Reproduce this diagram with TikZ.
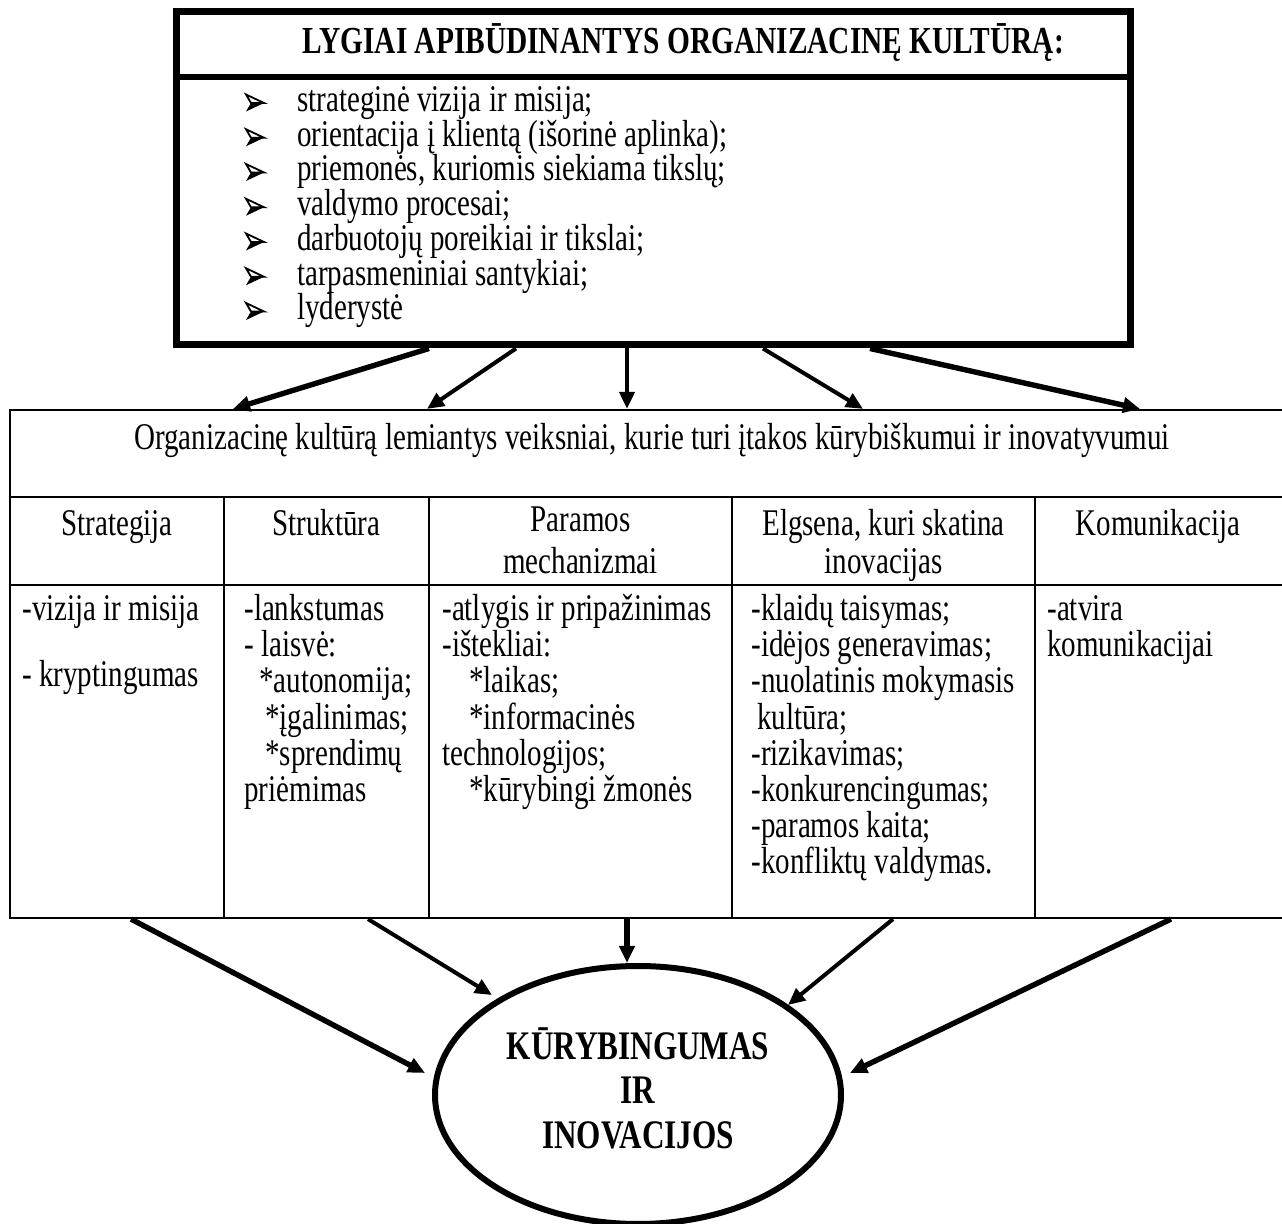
\documentclass[tikz,border=0pt]{standalone}
\usepackage{fontspec}
\setmainfont{Liberation Serif}
\usetikzlibrary{arrows.meta,shapes.geometric,calc}
\newcommand\vs[1]{\scalebox{1}[1.3]{#1}}
\begin{document}
\begin{tikzpicture}[x=0.5pt,y=-0.5pt,
  body/.style={inner sep=0,font=\fontsize{14.5pt}{17.75pt}\selectfont},
  lft/.style={body,anchor=base west},
  ctr/.style={body,anchor=base},
  arr/.style={-{Triangle[length=8.5pt,width=7.5pt]},line width=2pt},
  arrthick/.style={arr,line width=2.7pt},
  tline/.style={line width=1.1pt}]
\useasboundingbox (0,0) rectangle (1282,1224);

% ---------- top box ----------
\node[draw,line width=3.5pt,minimum width=477pt,minimum height=166.5pt,inner sep=0] (topbox) at (653,178.5) {};
\draw[line width=3pt] (topbox.west |- 0,77) -- (topbox.east |- 0,77);
\node[lft,font=\bfseries\fontsize{14.7pt}{17pt}\selectfont] (title) at (302,54) {\vs{LYGIAI APIBŪDINANTYS ORGANIZACINĘ KULTŪRĄ:}};
\foreach \t [count=\i] in {{strateginė vizija ir misija;},{orientacija į klientą (išorinė aplinka);},{priemonės, kuriomis siekiama tikslų;},{valdymo procesai;},{darbuotojų poreikiai ir tikslai;},{tarpasmeniniai santykiai;},{lyderystė}}{
  \pgfmathsetmacro\yy{111.5+34.75*(\i-1)}
  \node[lft] (li\i) at (297,\yy) {\vs{\t}};
  \draw[line width=0.9pt,line join=miter] (246,\yy-17) -- (264,\yy-8.5) -- (251,\yy-8.5) -- cycle;
  \fill (251,\yy-8.5) -- (264,\yy-8.5) -- (246,\yy) -- cycle;
}

% ---------- table ----------
\node[draw,tline,minimum width=637pt,minimum height=43.5pt,inner sep=0] (hdr) at (647,453.5) {};
\node[ctr] (hdrtxt) at (652,449.5) {\vs{Organizacinę kultūrą lemiantys veiksniai, kurie turi įtakos kūrybiškumui ir inovatyvumui}};
\node[draw,tline,minimum width=637pt,minimum height=210.5pt,inner sep=0] (tbl) at (647,707.5) {};
\draw[tline] (tbl.west |- 0,585) -- (tbl.east |- 0,585);
\foreach \x in {224,429,732,1035}{\draw[tline] (tbl.north -| \x,0) -- (tbl.south -| \x,0);}

\node[ctr] (h1) at (117,535.5) {\vs{Strategija}};
\node[ctr] (h2) at (326.5,535.5) {\vs{Struktūra}};
\node[ctr] (h3a) at (580.5,532) {\vs{Paramos}};
\node[ctr] (h3b) at (580.5,573.5) {\vs{mechanizmai}};
\node[ctr] (h4a) at (883.5,535.5) {\vs{Elgsena, kuri skatina}};
\node[ctr] (h4b) at (883.5,574) {\vs{inovacijas}};
\node[ctr] (h5) at (1158,535.5) {\vs{Komunikacija}};

% column 1
\node[lft] (c1a) at (22,620.5) {\vs{-vizija ir misija}};
\node[lft] (c1b) at (22,686.5) {\vs{- kryptingumas}};
% column 2
\node[lft] (c2a) at (244,620.5) {\vs{-lankstumas}};
\node[lft] (c2b) at (244,656.7) {\vs{- laisvė:}};
\node[lft] (c2c) at (259,692.9) {\vs{*autonomija;}};
\node[lft] (c2d) at (265,729.1) {\vs{*įgalinimas;}};
\node[lft] (c2e) at (265,765.3) {\vs{*sprendimų}};
\node[lft] (c2f) at (244,801.5) {\vs{priėmimas}};
% column 3
\node[lft] (c3a) at (442,620.5) {\vs{-atlygis ir pripažinimas}};
\node[lft] (c3b) at (442,656.7) {\vs{-ištekliai:}};
\node[lft] (c3c) at (469,692.9) {\vs{*laikas;}};
\node[lft] (c3d) at (469,729.1) {\vs{*informacinės}};
\node[lft] (c3e) at (442,765.3) {\vs{technologijos;}};
\node[lft] (c3f) at (469,801.5) {\vs{*kūrybingi žmonės}};
% column 4
\node[lft] (c4a) at (751,620.5) {\vs{-klaidų taisymas;}};
\node[lft] (c4b) at (751,656.7) {\vs{-idėjos generavimas;}};
\node[lft] (c4c) at (751,692.9) {\vs{-nuolatinis mokymasis}};
\node[lft] (c4d) at (757,729.1) {\vs{kultūra;}};
\node[lft] (c4e) at (751,765.3) {\vs{-rizikavimas;}};
\node[lft] (c4f) at (751,801.5) {\vs{-konkurencingumas;}};
\node[lft] (c4g) at (751,837.7) {\vs{-paramos kaita;}};
\node[lft] (c4h) at (751,873.9) {\vs{-konfliktų valdymas.}};
% column 5
\node[lft] (c5a) at (1047,620.5) {\vs{-atvira}};
\node[lft] (c5b) at (1047,656.7) {\vs{komunikacijai}};

% ---------- ellipse ----------
\node[draw,ellipse,line width=3pt,minimum width=203pt,minimum height=129pt,inner sep=0] (ell) at (638,1095) {};
\node[ctr,font=\bfseries\fontsize{15.6pt}{19pt}\selectfont] (t1) at (ell.center |- 0,1060) {\vs{KŪRYBINGUMAS}};
\node[ctr,font=\bfseries\fontsize{15.6pt}{19pt}\selectfont] (t2) at (ell.center |- 0,1104) {\vs{IR}};
\node[ctr,font=\bfseries\fontsize{15.6pt}{19pt}\selectfont] (t3) at (ell.center |- 0,1149) {\vs{INOVACIJOS}};
\coordinate (e1) at ($(ell.center)+(-213,-22)$);
\coordinate (e2) at ($(ell.center)+(-146,-100)$);
\coordinate (e3) at (ell.north -| 627,0);
\coordinate (e4) at ($(ell.center)+(150,-90)$);
\coordinate (e5) at ($(ell.center)+(212,-22)$);

% ---------- arrows top -> table ----------
\draw[arrthick] (topbox.south -| 429,0) -- (hdr.north -| 233,0);
\draw[arr] (topbox.south -| 516,0) -- (hdr.north -| 427,0);
\draw[arr] (topbox.south -| 627,0) -- (hdr.north -| 627,0);
\draw[arr] (topbox.south -| 763,0) -- (hdr.north -| 863,0);
\draw[arrthick] (topbox.south -| 870,0) -- (hdr.north -| 1140,0);

% ---------- arrows table -> ellipse ----------
\draw[arrthick] (tbl.south -| 131,0) -- (e1);
\draw[arr] (tbl.south -| 368,0) -- (e2);
\draw[arrthick] (tbl.south -| 627,0) -- (e3);
\draw[arr] (tbl.south -| 893,0) -- (e4);
\draw[arrthick] (tbl.south -| 1171,0) -- (e5);
\end{tikzpicture}
\end{document}
